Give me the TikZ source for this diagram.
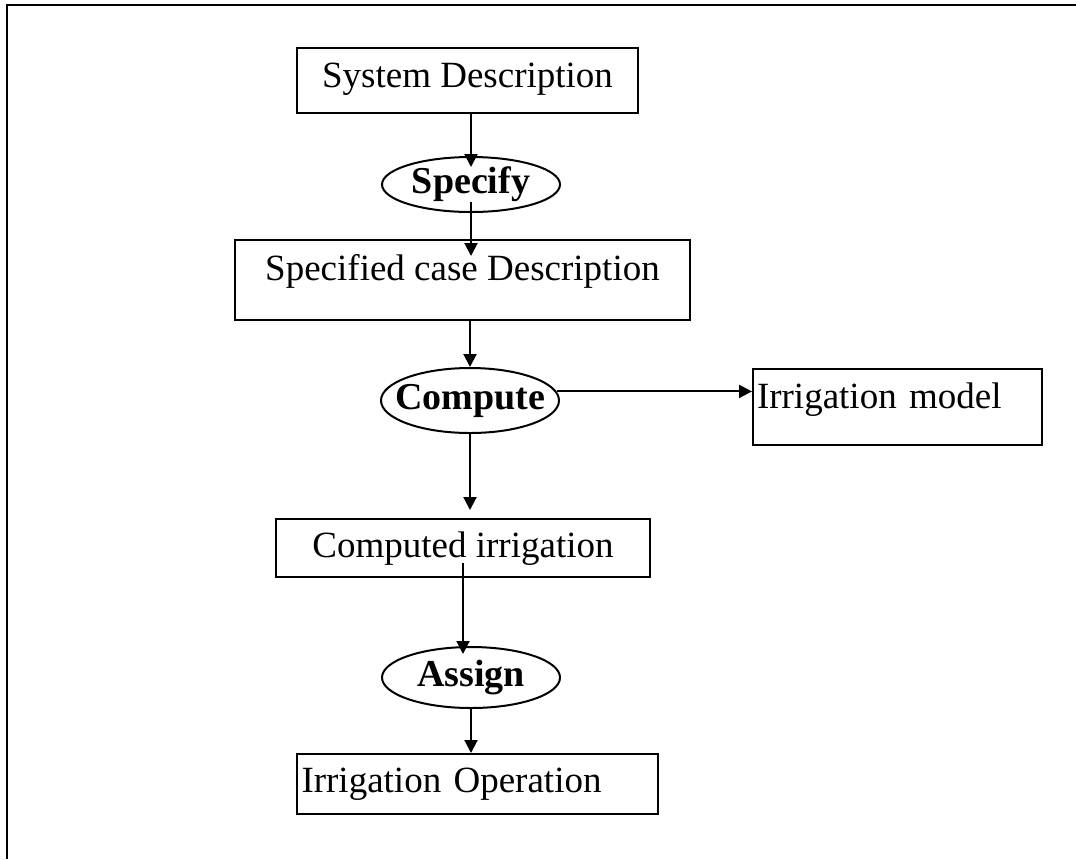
\documentclass[tikz,border=0pt]{standalone}
\usepackage{fontspec}
\setmainfont{Liberation Serif}
\usepackage{tikz}
\usetikzlibrary{shapes,arrows,arrows.meta}
\tikzstyle{block} = [draw, rectangle, line width=1pt, inner xsep=0pt, inner ysep=0pt,
    font=\fontsize{18.5}{22}\selectfont]
\tikzstyle{process} = [draw, ellipse, line width=1pt, inner sep=0pt, minimum width=89pt,
    font=\fontsize{19}{22}\selectfont\bfseries]
\tikzstyle{line} = [draw, line width=1pt, -{Triangle[length=6.5pt,width=6.5pt]}]
\newcommand{\oplabel}[1]{\makebox[0pt]{#1}}

\begin{document}
\begin{tikzpicture}[x=0.5pt, y=-0.5pt, node distance = 50pt, auto]
    \useasboundingbox (0,0) rectangle (1076,859);
    \draw [line width=1.2pt] (7,859) -- (7,5) -- (1076,5);
    \node [block, minimum width=170.5pt, text height=19.5pt, text depth=13pt] (sysdesc) at (467.5,80.5) {System Description};
    \node [process, below of=sysdesc, node distance=52pt, xshift=1.75pt, minimum height=27.5pt] (specify) {\oplabel{Specify}};
    \node [block, below of=specify, node distance=47.75pt, xshift=-4.25pt, minimum width=227.5pt, text height=20pt, text depth=20pt] (casedesc) {Specified case Description};
    \node [process, below of=casedesc, node distance=60.25pt, xshift=3.75pt, minimum height=32.5pt] (compute) {\oplabel{Compute}};
    \node [block, right of=compute, node distance=213.75pt, yshift=-3.25pt, text width=140.5pt, align=left, inner xsep=2pt, text height=19.5pt, text depth=18.5pt] (model) {Irrigation model};
    \node [block, below of=compute, node distance=73.75pt, xshift=-3.5pt, minimum width=187pt, text height=19pt, text depth=10pt] (computed) {Computed irrigation};
    \node [process, below of=computed, node distance=64.75pt, xshift=4pt, minimum height=30.5pt] (assign) {\oplabel{Assign}};
    \node [block, below of=assign, node distance=53.25pt, xshift=3.25pt, text width=176pt, align=left, inner xsep=2.25pt, text height=19pt, text depth=11pt] (operation) {Irrigation Operation};
    \path [line, shorten >=-5.5pt] (specify.north |- sysdesc.south) -- (specify.north);
    \path [line, shorten <=-5.5pt, shorten >=-8.5pt] (specify.south) -- (specify.south |- casedesc.north);
    \path [line] (compute.north |- casedesc.south) -- (compute.north);
    \path [line] (compute.6) -- (compute.6 -| model.west);
    \path [line, shorten >=4pt] (compute.south) -- (compute.south |- computed.north);
    \path [line, shorten <=-7.5pt, shorten >=-4pt] (computed.south) -- (computed.south |- assign.north);
    \path [line] (assign.south) -- (assign.south |- operation.north);
\end{tikzpicture}
\end{document}
